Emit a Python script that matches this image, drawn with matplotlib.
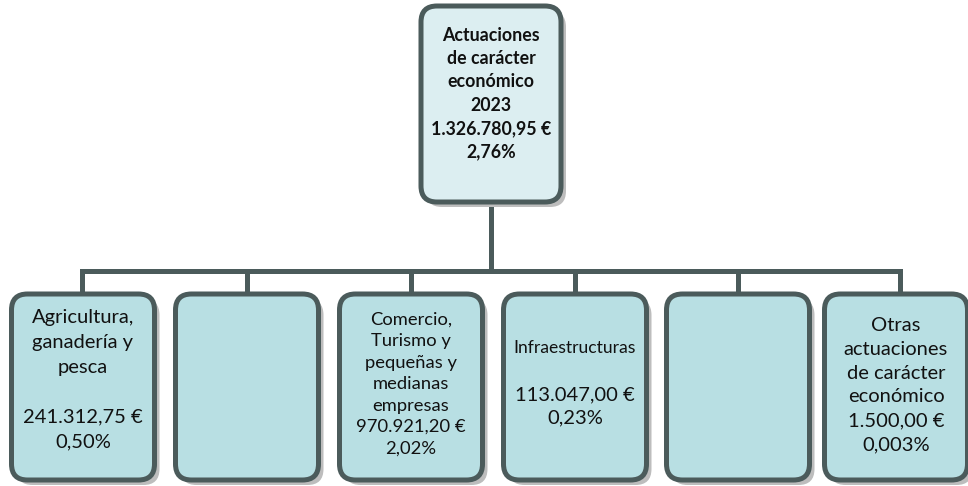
import matplotlib.pyplot as plt
from matplotlib.patches import FancyBboxPatch

plt.rcParams['font.family'] = ['Lato', 'DejaVu Sans']

# Data
root_lines = ["Actuaciones", "de carácter", "económico", "2023"]
root_amount = "1.326.780,95 €"
root_pct = "2,76%"

categories = [
    ["Agricultura,", "ganadería y", "pesca", ""],
    [],
    ["Comercio,", "Turismo y", "pequeñas y", "medianas", "empresas"],
    ["Infraestructuras", ""],
    [],
    ["Otras", "actuaciones", "de carácter", "económico"],
]
amounts = ["241.312,75 €", "", "970.921,20 €", "113.047,00 €", "", "1.500,00 €"]
percents = ["0,50%", "", "2,02%", "0,23%", "", "0,003%"]

# Layout (pixels)
W, H = 968, 486
edge = '#4b5b5b'
shadow = '#bdbdbd'
fill_child = '#b8dfe3'
fill_root = '#dceef1'

fig = plt.figure(figsize=(W / 100, H / 100), dpi=100)
ax = fig.add_axes([0, 0, 1, 1])
ax.set_xlim(0, W)
ax.set_ylim(H, 0)
ax.axis('off')


def draw_box(x0, y0, w, h, face):
    sh = FancyBboxPatch((x0 + 5, y0 + 5), w, h, boxstyle="round,pad=0,rounding_size=16",
                        fc=shadow, ec='none', zorder=1)
    ax.add_patch(sh)
    b = FancyBboxPatch((x0, y0), w, h, boxstyle="round,pad=0,rounding_size=16",
                       fc=face, ec=edge, lw=3.6, zorder=2)
    ax.add_patch(b)


def draw_lines(cx, lines, y_first, step, sizes, weight='normal'):
    # one text per line so the spacing stays even
    for k, line in enumerate(lines):
        if not line:
            continue
        ax.text(cx, y_first + k * step, line, ha='center', va='baseline',
                fontsize=sizes[k], fontweight=weight, color='#111111', zorder=3)


# root
rx0, ry0, rw, rh = 421, 6, 140, 196
draw_box(rx0, ry0, rw, rh, fill_root)
root_all = root_lines + [root_amount, root_pct]
draw_lines(rx0 + rw / 2, root_all, 41, 23.2, [12.8] * len(root_all), weight='bold')

# connectors
bus_y = 271
child_cx = [82, 247, 411, 575, 738, 900]
box_cx = [83, 247, 411, 575, 738, 896]
ax.plot([rx0 + rw / 2, rx0 + rw / 2], [ry0 + rh, bus_y], color=edge, lw=3.6, zorder=0,
        solid_capstyle='butt')
ax.plot([child_cx[0], child_cx[-1]], [bus_y, bus_y], color=edge, lw=3.6, zorder=0,
        solid_capstyle='projecting')
for cx in child_cx:
    ax.plot([cx, cx], [bus_y, 293], color=edge, lw=3.6, zorder=0, solid_capstyle='butt')

# children: first baseline, line step, font size per box
text_first = [323, 0, 325, 353, 0, 331]
text_step = [24.8, 0, 21.4, 23.5, 0, 23.8]
text_size = [14.5, 0, 13.2, 14.5, 0, 14.5]

bw, by0, bh = 143, 294, 186
for i, cx in enumerate(box_cx):
    draw_box(cx - bw / 2, by0, bw, bh, fill_child)
    if not categories[i]:
        continue
    lines = categories[i] + [amounts[i], percents[i]]
    sizes = [text_size[i]] * len(lines)
    if categories[i][0] == "Infraestructuras":
        sizes[0] = 12.6
    draw_lines(cx, lines, text_first[i], text_step[i], sizes)

fig.savefig('out.png', dpi=100)
